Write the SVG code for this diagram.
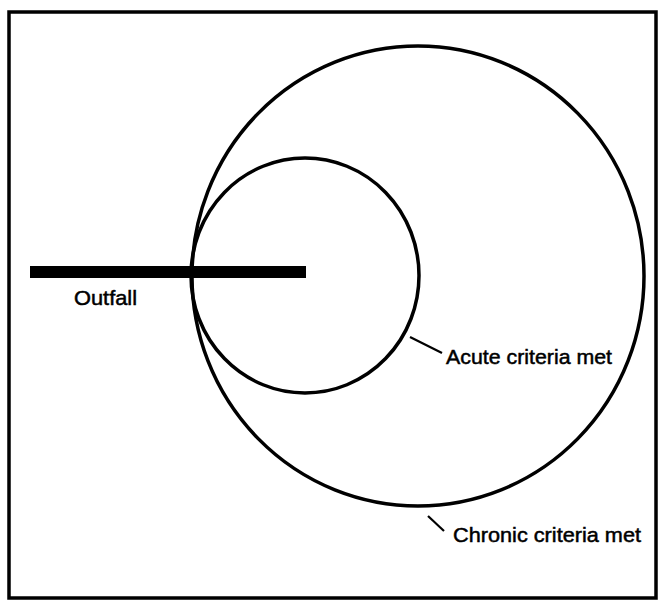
<svg xmlns="http://www.w3.org/2000/svg" width="659" height="600" viewBox="0 0 659 600">
<style>
.ring{fill:none;stroke:#000;stroke-width:3.5}
.lead{stroke:#000;stroke-width:2.2;fill:none}
.lbl{font-family:"Liberation Sans",Arial,Helvetica,sans-serif;font-size:21px;fill:#000;stroke:#000;stroke-width:0.5}
</style>
<rect x="0" y="0" width="659" height="600" fill="#fff"/>
<rect id="frame" x="9" y="12" width="647" height="586" fill="none" stroke="#000" stroke-width="3.5"/>
<g id="chronic-zone">
<ellipse class="ring" cx="418" cy="276" rx="226" ry="230"/>
</g>
<g id="acute-zone">
<ellipse class="ring" cx="305" cy="275.5" rx="114" ry="117.5" stroke-width="4"/>
</g>
<g id="outfall">
<rect x="30" y="266" width="276" height="12" fill="#000"/>
<text class="lbl" x="74" y="305" textLength="63" lengthAdjust="spacingAndGlyphs">Outfall</text>
</g>
<g id="connectors">
<line class="lead" x1="410" y1="337" x2="442" y2="353"/>
<line class="lead" x1="428" y1="516" x2="444" y2="531"/>
</g>
<g id="acute-label">
<text class="lbl" x="446" y="364" textLength="166" lengthAdjust="spacingAndGlyphs">Acute criteria met</text>
</g>
<g id="chronic-label">
<text class="lbl" x="453" y="542" textLength="188" lengthAdjust="spacingAndGlyphs">Chronic criteria met</text>
</g>
</svg>
